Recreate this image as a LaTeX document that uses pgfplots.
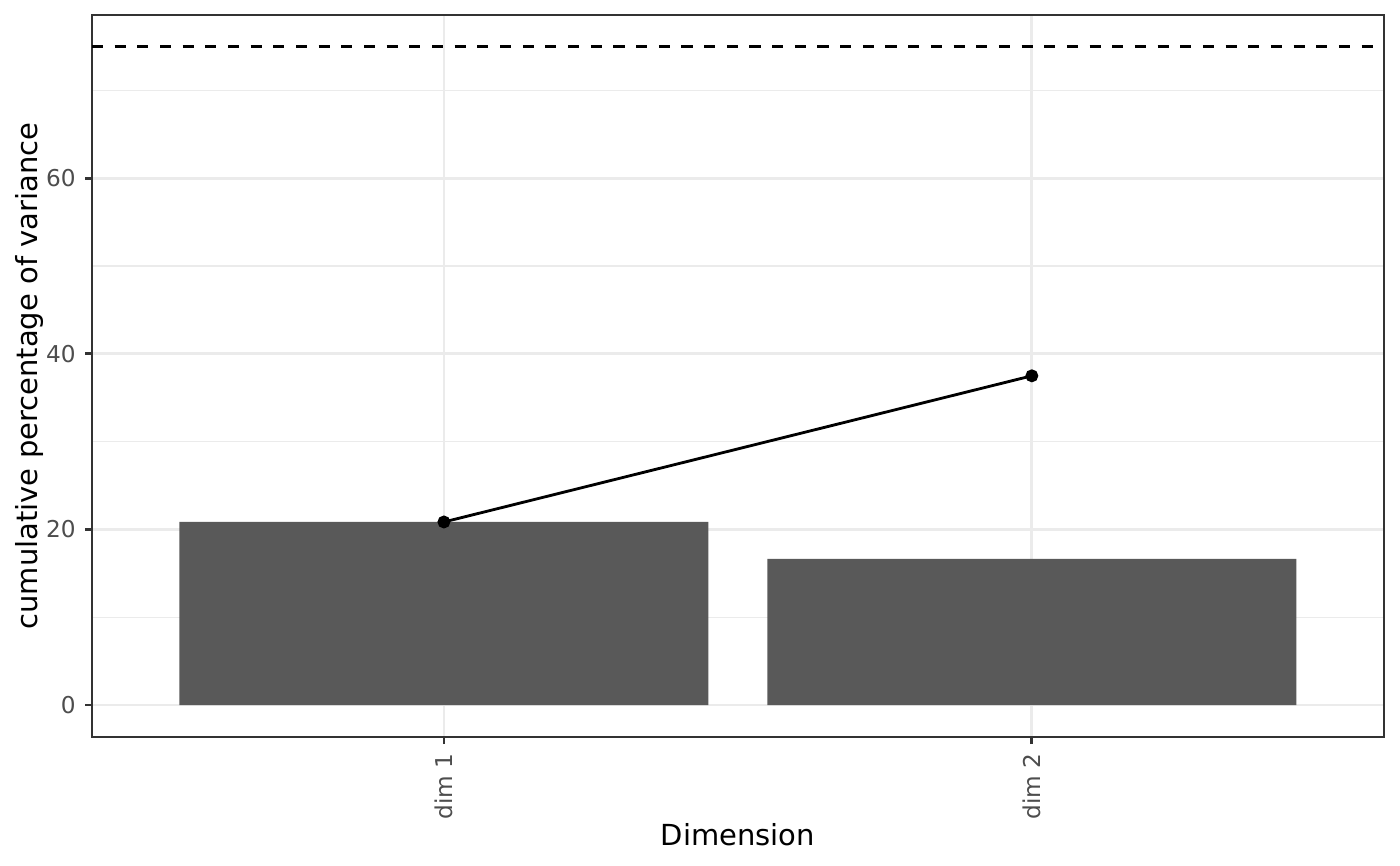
\documentclass[border=0pt]{standalone}
\usepackage{pgfplots}
\pgfplotsset{compat=1.18}
\usepackage{fontspec}
\setmainfont{DejaVu Sans}
\definecolor{gridc}{HTML}{EBEBEB}
\definecolor{barc}{HTML}{595959}
\definecolor{grayA}{HTML}{4D4D4D}
\definecolor{grayB}{HTML}{333333}
\begin{document}
\begin{tikzpicture}
\begin{axis}[
 scale only axis, width=490.1pt, height=273.9pt,
 xmin=0.4014, xmax=2.599, ymin=-3.65, ymax=78.6,
 xtick={1,2}, xticklabels={dim 1, dim 2},
 ytick={0,20,40,60}, minor ytick={10,30,50,70},
 grid=both,
 major grid style={gridc, line width=1.07pt},
 minor grid style={gridc, line width=0.53pt},
 axis line style={grayB, line width=0.75pt},
 tick align=outside, tick pos=left,
 major tick length=2.65pt, minor tick length=0pt,
 tick style={grayB, line width=1.07pt},
 ticklabel style={font=\fontsize{8.8}{10}\selectfont, text=grayA},
 xticklabel style={rotate=90, anchor=east},
 /pgf/number format/assume math mode=true,
 xlabel={Dimension}, ylabel={cumulative percentage of variance},
 label style={font=\fontsize{11}{13}\selectfont},
 xlabel style={at={(axis description cs:0.5,-0.1357)}, anchor=center},
 ylabel style={at={(axis description cs:-0.048,0.5)}, anchor=center},
]
\addplot[black, line width=1.07pt, dash pattern=on 4.2pt off 4.4pt] coordinates {(0.4014,75) (2.599,75)};
\addplot[black, line width=1.07pt, mark=*, mark size=1.9pt, mark options={solid}] coordinates {(1,20.85) (2,37.5)};
\addplot[ybar, bar width=0.9, bar shift=0pt, fill=barc, draw=none] coordinates {(1,20.85) (2,16.64)};
\coordinate (SW) at (axis description cs:0,0);
\coordinate (NE) at (axis description cs:1,1);
\end{axis}
\pgfresetboundingbox
\path ([xshift=-34.9pt,yshift=-48.9pt]SW) rectangle ([xshift=6.07pt,yshift=5.7pt]NE);
\end{tikzpicture}
\end{document}
